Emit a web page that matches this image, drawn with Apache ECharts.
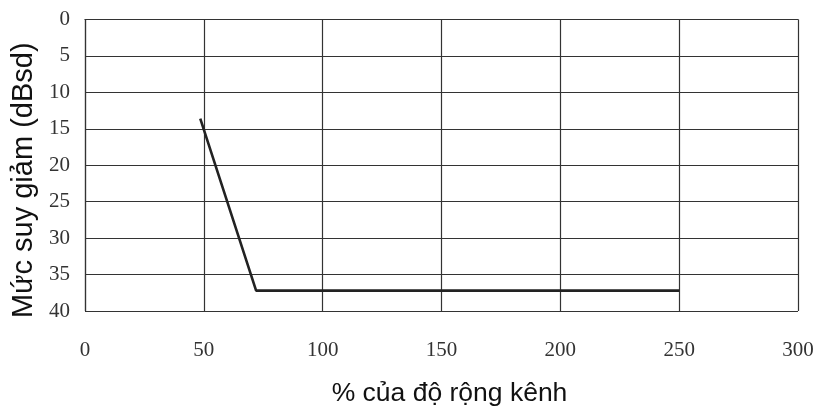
<!DOCTYPE html>
<html><head><meta charset="utf-8">
<script src="https://cdn.jsdelivr.net/npm/echarts@6/dist/echarts.min.js"></script>
<style>html,body{margin:0;padding:0;background:#fff}#c{width:819px;height:412px}</style>
</head><body><div id="c"></div>
<script>
const xValues = [48.5, 72, 250];
const yValues = [13.6, 37.2, 37.2];
const xTitle = '% của độ rộng kênh';
const yTitle = 'Mức suy giảm (dBsd)';

const chart = echarts.init(document.getElementById('c'));
chart.setOption({
  animation: false,
  backgroundColor: '#fff',
  grid: {left: 85, right: 21, top: 19.5, bottom: 98, containLabel: false},
  xAxis: {
    type: 'value', min: 0, max: 300, interval: 50,
    name: xTitle, nameLocation: 'middle', nameGap: 69,
    nameTextStyle: {fontFamily: 'Liberation Sans', fontSize: 26.5, color: '#111', padding: [0, 0, 0, 16]},
    axisLine: {show: true, lineStyle: {color: '#333', width: 1.2}},
    axisTick: {show: false},
    axisLabel: {fontFamily: 'Liberation Serif', fontSize: 21, color: '#333', margin: 29},
    splitLine: {show: true, lineStyle: {color: '#333', width: 1.2}}
  },
  yAxis: {
    type: 'value', min: 0, max: 40, interval: 5, inverse: true,
    name: yTitle, nameLocation: 'middle', nameGap: 47, nameRotate: 90,
    nameTextStyle: {fontFamily: 'Liberation Sans', fontSize: 29, color: '#111', padding: [0, 30, 0, 0]},
    axisLine: {show: true, lineStyle: {color: '#333', width: 1.2}},
    axisTick: {show: false},
    axisLabel: {fontFamily: 'Liberation Serif', fontSize: 21, color: '#333', margin: 15},
    splitLine: {show: true, lineStyle: {color: '#333', width: 1.2}}
  },
  series: [{
    type: 'line',
    data: xValues.map((x, i) => [x, yValues[i]]),
    symbol: 'none',
    lineStyle: {color: '#222', width: 2.6}
  }]
});
</script></body></html>
